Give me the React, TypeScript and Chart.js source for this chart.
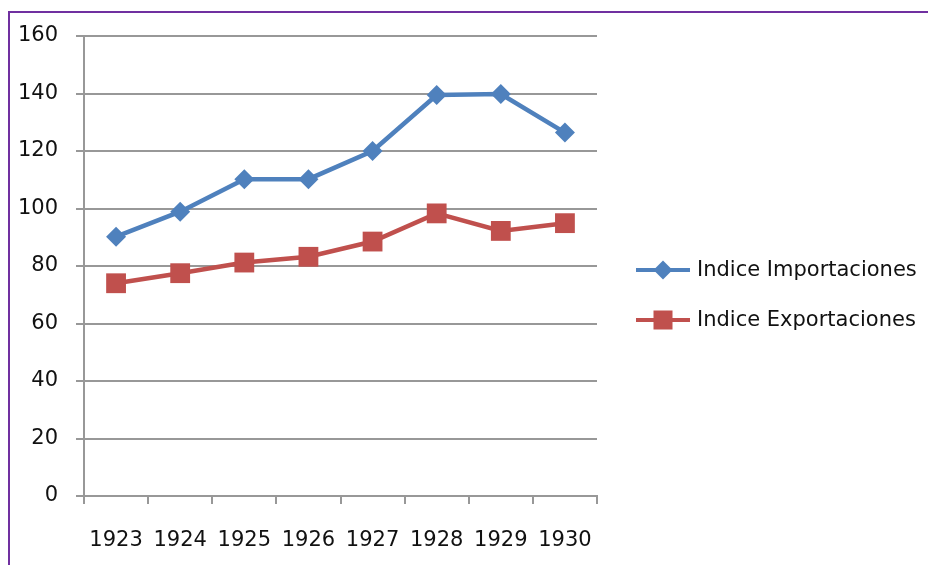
import React, { useEffect, useRef } from "react";
import { Chart, registerables } from "chart.js";

Chart.register(...registerables);

const years = ["1923", "1924", "1925", "1926", "1927", "1928", "1929", "1930"];
const importaciones = [90.2, 98.9, 110.2, 110.2, 120, 139.5, 139.8, 126.4];
const exportaciones = [74, 77.5, 81.2, 83.2, 88.5, 98.3, 92.2, 94.9];
const seriesNames = ["Indice Importaciones", "Indice Exportaciones"];

const BLUE = "#4F81BD";
const RED = "#C0504D";
const GRID = "#989898";
const TEXT = "#111111";
const FONT = "'DejaVu Sans', sans-serif";
const FSIZE = 21;

const legendPlugin = {
  id: "sideLegend",
  afterDraw(chart: any) {
    const ctx = chart.ctx;
    const items = chart.data.datasets;
    const x0 = 636;
    const x1 = 690;
    const ys = [270, 320];
    items.forEach((ds: any, i: number) => {
      const y = ys[i];
      ctx.save();
      ctx.strokeStyle = ds.borderColor;
      ctx.lineWidth = 4;
      ctx.beginPath();
      ctx.moveTo(x0, y);
      ctx.lineTo(x1, y);
      ctx.stroke();
      ctx.fillStyle = ds.backgroundColor;
      const cx = (x0 + x1) / 2;
      if (i === 0) {
        const r = 9.5;
        ctx.beginPath();
        ctx.moveTo(cx, y - r);
        ctx.lineTo(cx + r, y);
        ctx.lineTo(cx, y + r);
        ctx.lineTo(cx - r, y);
        ctx.closePath();
        ctx.fill();
      } else {
        ctx.fillRect(cx - 9.5, y - 9.5, 19, 19);
      }
      ctx.fillStyle = TEXT;
      ctx.font = `${FSIZE}px ${FONT}`;
      ctx.textBaseline = "middle";
      ctx.textAlign = "left";
      ctx.fillText(ds.label, 697, y + 1);
      ctx.restore();
    });
  },
};

export default function App() {
  const ref = useRef<HTMLCanvasElement | null>(null);
  useEffect(() => {
    if (!ref.current) return;
    const chart = new Chart(ref.current, {
      type: "line",
      data: {
        labels: years,
        datasets: [
          {
            label: seriesNames[0],
            data: importaciones,
            borderColor: BLUE,
            backgroundColor: BLUE,
            borderWidth: 4.5,
            pointStyle: "rectRot",
            pointRadius: 10,
            pointHoverRadius: 10,
            pointBorderWidth: 0,
            tension: 0,
          },
          {
            label: seriesNames[1],
            data: exportaciones,
            borderColor: RED,
            backgroundColor: RED,
            borderWidth: 4.5,
            pointStyle: "rect",
            pointRadius: 14,
            pointHoverRadius: 14,
            pointBorderWidth: 0,
            tension: 0,
          },
        ],
      },
      options: {
        responsive: false,
        animation: false,
        devicePixelRatio: 1,
        layout: { padding: { top: 36, right: 331, left: 0, bottom: 0 } },
        plugins: { legend: { display: false }, tooltip: { enabled: false } },
        scales: {
          x: {
            offset: true,
            grid: {
              offset: true,
              drawOnChartArea: false,
              drawTicks: true,
              tickLength: 8,
              color: GRID,
              lineWidth: 2,
            },
            border: { color: GRID, width: 2 },
            ticks: {
              color: TEXT,
              font: { family: FONT, size: FSIZE },
              padding: 24,
              maxRotation: 0,
              autoSkip: false,
            },
            afterFit: (s: any) => {
              s.height = 69;
            },
          },
          y: {
            min: 0,
            max: 160,
            ticks: {
              stepSize: 20,
              color: TEXT,
              font: { family: FONT, size: FSIZE },
              padding: 18,
            },
            grid: { color: GRID, lineWidth: 2, tickLength: 8 },
            border: { color: GRID, width: 2 },
            afterFit: (s: any) => {
              s.width = 84;
            },
          },
        },
      },
      plugins: [legendPlugin],
    });
    return () => chart.destroy();
  }, []);

  return (
    <div
      style={{
        position: "absolute",
        left: 0,
        top: 0,
        width: 928,
        height: 565,
        overflow: "hidden",
        background: "#fff",
      }}
    >
      <canvas ref={ref} width={928} height={565} style={{ position: "absolute", left: 0, top: 0 }} />
      <div
        style={{
          position: "absolute",
          left: 8,
          top: 11,
          width: 960,
          height: 620,
          border: "2px solid #7030A0",
          pointerEvents: "none",
        }}
      />
    </div>
  );
}
